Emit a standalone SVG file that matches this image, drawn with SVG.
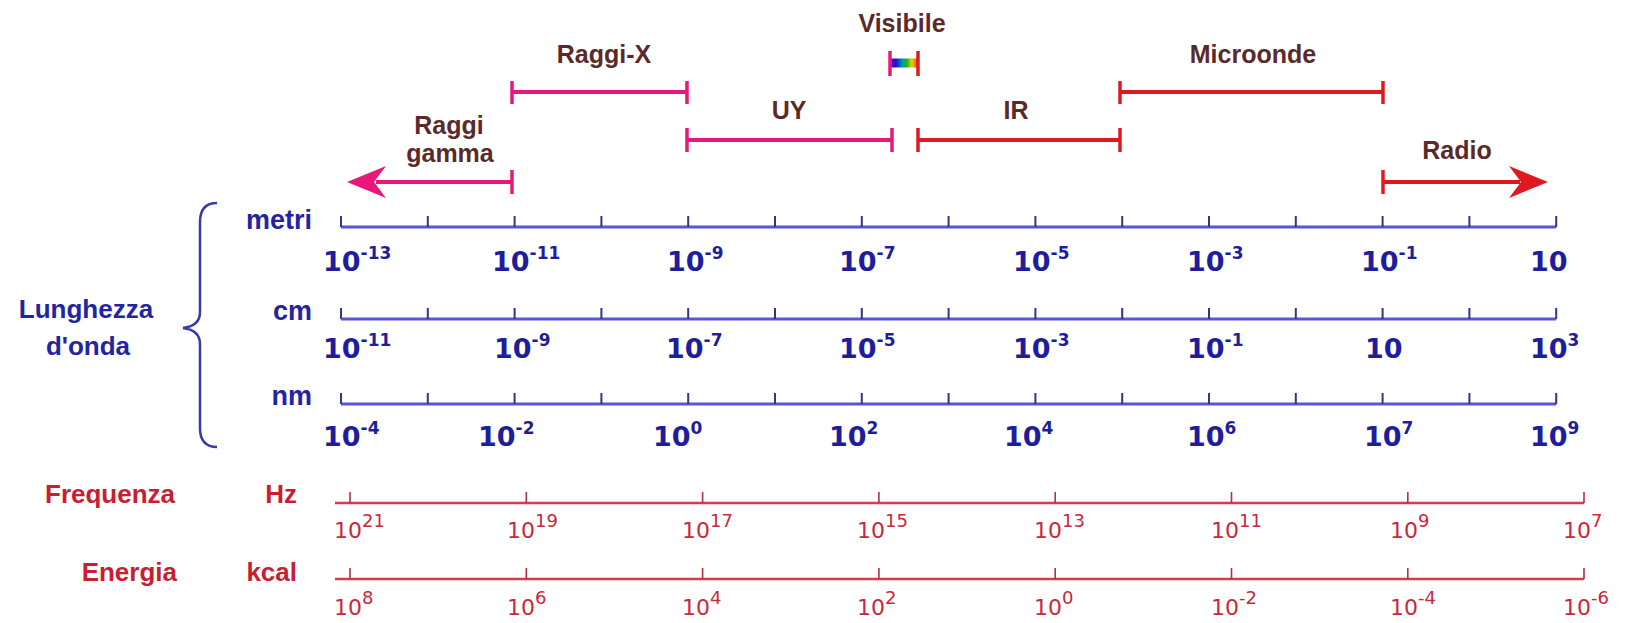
<svg xmlns="http://www.w3.org/2000/svg" width="1634" height="623" viewBox="0 0 1634 623">
<style>
.ttl{font-family:"Liberation Sans",Arial,sans-serif;font-weight:bold;font-size:25px;fill:#5a2a2a;text-anchor:middle}
.bunit{font-family:"Liberation Sans",Arial,sans-serif;font-weight:bold;font-size:27px;fill:#2424a0;text-anchor:end}
.bname{font-family:"Liberation Sans",Arial,sans-serif;font-weight:bold;font-size:26px;fill:#2424a0;text-anchor:middle}
.runit{font-family:"Liberation Sans",Arial,sans-serif;font-weight:bold;font-size:26px;fill:#c81e32;text-anchor:end}
.bl{font-family:"DejaVu Sans",Verdana,sans-serif;font-weight:bold;font-size:27px;fill:#1e1e9c}
.bl tspan{font-size:17px}
.rl{font-family:"DejaVu Sans",Verdana,sans-serif;font-size:22px;fill:#c8283c}
.rl tspan{font-size:18px}
.baxis{fill:none;stroke:#5656d6;stroke-width:3}
.btick{fill:none;stroke:#34348a;stroke-width:2}
.raxis{fill:none;stroke:#d43c4c;stroke-width:2.5}
.rtick{fill:none;stroke:#b83040;stroke-width:1.6}
.mag{stroke:#e8187a;stroke-width:4;fill:none}
.red{stroke:#e01820;stroke-width:4;fill:none}
.cap{stroke-width:3.5}
</style>
<defs>
<linearGradient id="spec" x1="0" y1="0" x2="1" y2="0">
<stop offset="0" stop-color="#9a00d0"/>
<stop offset="0.2" stop-color="#1010d0"/>
<stop offset="0.45" stop-color="#00a0a0"/>
<stop offset="0.6" stop-color="#20b020"/>
<stop offset="0.78" stop-color="#e8d000"/>
<stop offset="0.9" stop-color="#f08000"/>
<stop offset="1" stop-color="#e01010"/>
</linearGradient>
</defs>
<rect width="1634" height="623" fill="#ffffff"/>

<g id="connectors">
  <g id="gamma-bar">
    <path class="mag" d="M512,182 H376"/>
    <path class="mag cap" d="M512,170 V194"/>
    <path fill="#e8187a" d="M347,182 L386,166 L374,182 L386,198 Z"/>
  </g>
  <g id="xray-bar">
    <path class="mag" d="M512,92 H687"/>
    <path class="mag cap" d="M512,81 V104 M687,81 V104"/>
  </g>
  <g id="uv-bar">
    <path class="mag" d="M687,140 H892"/>
    <path class="mag cap" d="M687,128 V152 M892,128 V152"/>
  </g>
  <g id="visible-bar">
    <rect x="890" y="58.5" width="28" height="9" fill="url(#spec)"/>
    <path class="mag cap" d="M890,51 V76"/>
    <path class="red cap" d="M918,51 V76"/>
  </g>
  <g id="ir-bar">
    <path class="red" d="M918,140 H1120"/>
    <path class="red cap" d="M918,128 V152 M1120,128 V152"/>
  </g>
  <g id="micro-bar">
    <path class="red" d="M1120,92 H1383"/>
    <path class="red cap" d="M1120,81 V104 M1383,81 V104"/>
  </g>
  <g id="radio-bar">
    <path class="red" d="M1383,182 H1520"/>
    <path class="red cap" d="M1383,170 V194"/>
    <path fill="#e01820" d="M1548,182 L1509,166 L1521,182 L1509,198 Z"/>
  </g>
</g>

<g id="band-labels">
  <text class="ttl" x="902" y="32">Visibile</text>
  <text class="ttl" x="604" y="63">Raggi-X</text>
  <text class="ttl" x="1253" y="63">Microonde</text>
  <text class="ttl" x="789" y="119">UY</text>
  <text class="ttl" x="1016" y="119">IR</text>
  <text class="ttl" x="449" y="134">Raggi</text>
  <text class="ttl" x="450" y="162">gamma</text>
  <text class="ttl" x="1457" y="159">Radio</text>
</g>

<g id="wavelength-label">
  <text class="bname" x="86" y="318">Lunghezza</text>
  <text class="bname" x="88" y="355">d'onda</text>
  <path d="M217,203 Q200,203 200,222 L200,312 Q200,326 183,328 Q200,330 200,344 L200,428 Q200,447 217,447" fill="none" stroke="#3a3aa6" stroke-width="2.5"/>
</g>

<g id="axis-metri">
  <text class="bunit" x="312" y="229">metri</text>
  <path class="baxis" d="M341,227 H1556.2"/>
  <path class="btick" d="M341,227 v-11 M427.8,227 v-11 M514.6,227 v-11 M601.4,227 v-11 M688.2,227 v-11 M775,227 v-11 M861.8,227 v-11 M948.6,227 v-11 M1035.4,227 v-11 M1122.2,227 v-11 M1209,227 v-11 M1295.8,227 v-11 M1382.6,227 v-11 M1469.4,227 v-11 M1556.2,227 v-11"/>
  <text class="bl" x="323" y="271">10<tspan dy="-12">-13</tspan></text>
  <text class="bl" x="492" y="271">10<tspan dy="-12">-11</tspan></text>
  <text class="bl" x="667" y="271">10<tspan dy="-12">-9</tspan></text>
  <text class="bl" x="839" y="271">10<tspan dy="-12">-7</tspan></text>
  <text class="bl" x="1013" y="271">10<tspan dy="-12">-5</tspan></text>
  <text class="bl" x="1187" y="271">10<tspan dy="-12">-3</tspan></text>
  <text class="bl" x="1361" y="271">10<tspan dy="-12">-1</tspan></text>
  <text class="bl" x="1530" y="271">10</text>
</g>

<g id="axis-cm">
  <text class="bunit" x="312" y="320">cm</text>
  <path class="baxis" d="M341,319 H1556.2"/>
  <path class="btick" d="M341,319 v-11 M427.8,319 v-11 M514.6,319 v-11 M601.4,319 v-11 M688.2,319 v-11 M775,319 v-11 M861.8,319 v-11 M948.6,319 v-11 M1035.4,319 v-11 M1122.2,319 v-11 M1209,319 v-11 M1295.8,319 v-11 M1382.6,319 v-11 M1469.4,319 v-11 M1556.2,319 v-11"/>
  <text class="bl" x="323" y="358">10<tspan dy="-12">-11</tspan></text>
  <text class="bl" x="494" y="358">10<tspan dy="-12">-9</tspan></text>
  <text class="bl" x="666" y="358">10<tspan dy="-12">-7</tspan></text>
  <text class="bl" x="839" y="358">10<tspan dy="-12">-5</tspan></text>
  <text class="bl" x="1013" y="358">10<tspan dy="-12">-3</tspan></text>
  <text class="bl" x="1187" y="358">10<tspan dy="-12">-1</tspan></text>
  <text class="bl" x="1365" y="358">10</text>
  <text class="bl" x="1530" y="358">10<tspan dy="-12">3</tspan></text>
</g>

<g id="axis-nm">
  <text class="bunit" x="312" y="405">nm</text>
  <path class="baxis" d="M341,404 H1556.2"/>
  <path class="btick" d="M341,404 v-11 M427.8,404 v-11 M514.6,404 v-11 M601.4,404 v-11 M688.2,404 v-11 M775,404 v-11 M861.8,404 v-11 M948.6,404 v-11 M1035.4,404 v-11 M1122.2,404 v-11 M1209,404 v-11 M1295.8,404 v-11 M1382.6,404 v-11 M1469.4,404 v-11 M1556.2,404 v-11"/>
  <text class="bl" x="323" y="446">10<tspan dy="-12">-4</tspan></text>
  <text class="bl" x="478" y="446">10<tspan dy="-12">-2</tspan></text>
  <text class="bl" x="653" y="446">10<tspan dy="-12">0</tspan></text>
  <text class="bl" x="829" y="446">10<tspan dy="-12">2</tspan></text>
  <text class="bl" x="1004" y="446">10<tspan dy="-12">4</tspan></text>
  <text class="bl" x="1187" y="446">10<tspan dy="-12">6</tspan></text>
  <text class="bl" x="1364" y="446">10<tspan dy="-12">7</tspan></text>
  <text class="bl" x="1530" y="446">10<tspan dy="-12">9</tspan></text>
</g>

<g id="axis-hz">
  <text class="runit" x="45" y="503" style="text-anchor:start">Frequenza</text>
  <text class="runit" x="297" y="503">Hz</text>
  <path class="raxis" d="M335,503 H1584"/>
  <path class="rtick" d="M350,503 v-11 M526.3,503 v-11 M702.6,503 v-11 M878.9,503 v-11 M1055.2,503 v-11 M1231.5,503 v-11 M1407.8,503 v-11 M1584,503 v-11"/>
  <text class="rl" x="334" y="538">10<tspan dy="-11">21</tspan></text>
  <text class="rl" x="507" y="538">10<tspan dy="-11">19</tspan></text>
  <text class="rl" x="682" y="538">10<tspan dy="-11">17</tspan></text>
  <text class="rl" x="857" y="538">10<tspan dy="-11">15</tspan></text>
  <text class="rl" x="1034" y="538">10<tspan dy="-11">13</tspan></text>
  <text class="rl" x="1211" y="538">10<tspan dy="-11">11</tspan></text>
  <text class="rl" x="1390" y="538">10<tspan dy="-11">9</tspan></text>
  <text class="rl" x="1563" y="538">10<tspan dy="-11">7</tspan></text>
</g>

<g id="axis-kcal">
  <text class="runit" x="177" y="581">Energia</text>
  <text class="runit" x="297" y="581">kcal</text>
  <path class="raxis" d="M335,579 H1584"/>
  <path class="rtick" d="M350,579 v-11 M526.3,579 v-11 M702.6,579 v-11 M878.9,579 v-11 M1055.2,579 v-11 M1231.5,579 v-11 M1407.8,579 v-11 M1584,579 v-11"/>
  <text class="rl" x="334" y="615">10<tspan dy="-11">8</tspan></text>
  <text class="rl" x="507" y="615">10<tspan dy="-11">6</tspan></text>
  <text class="rl" x="682" y="615">10<tspan dy="-11">4</tspan></text>
  <text class="rl" x="857" y="615">10<tspan dy="-11">2</tspan></text>
  <text class="rl" x="1034" y="615">10<tspan dy="-11">0</tspan></text>
  <text class="rl" x="1211" y="615">10<tspan dy="-11">-2</tspan></text>
  <text class="rl" x="1390" y="615">10<tspan dy="-11">-4</tspan></text>
  <text class="rl" x="1563" y="615">10<tspan dy="-11">-6</tspan></text>
</g>
</svg>
